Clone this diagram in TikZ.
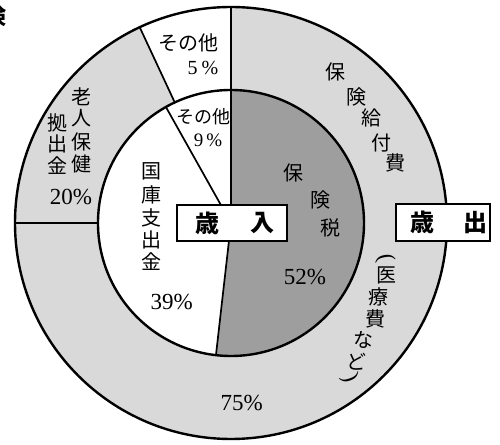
\documentclass[tikz,border=0pt]{standalone}
\usepackage{fontspec}
\setmainfont{Liberation Serif}
\newfontfamily\jp{Noto Sans CJK JP}
\usetikzlibrary{calc}
\definecolor{ringgray}{RGB}{217,217,217}
\definecolor{taxgray}{RGB}{158,158,158}
\begin{document}
\begin{tikzpicture}[x=1pt,y=1pt,
  jc/.style={font=\jp\fontsize{20}{20}\selectfont, inner sep=0pt},
  jb/.style={font=\jp\bfseries\fontsize{24}{24}\selectfont, inner sep=0pt},
  num/.style={font=\fontsize{23}{23}\selectfont, inner sep=0pt},
  sml/.style={font=\fontsize{20}{20}\selectfont, inner sep=0pt},
  lblbox/.style={draw, line width=2.2pt, fill=white, inner sep=0pt},
  ringline/.style={line width=2.4pt},
  divline/.style={line width=1.7pt}]
\useasboundingbox (0,0) rectangle (500,444);
\coordinate (c) at (231,221);
% fills
\fill[ringgray] (c) circle[radius=216];
\fill[white] (c) -- ++(90:216) arc[start angle=90,end angle=115,radius=216] -- cycle;
\fill[white] (c) circle[radius=133];
\fill[taxgray] (c) -- ++(90:133) arc[start angle=90,end angle=-96.5,radius=133] -- cycle;
% circles
\draw[ringline] (c) circle[radius=216];
\draw[ringline] (c) circle[radius=133];
% divider points
\path (c) ++(90:216) coordinate (otop);
\path (c) ++(115:216) coordinate (o115);
\path (c) ++(115:133) coordinate (i115);
\path (c) ++(180:216) coordinate (oleft);
\path (c) ++(180:133) coordinate (ileft);
\path (c) ++(119.3:133) coordinate (i119);
\path (c) ++(-96.5:133) coordinate (ibot);
\draw[divline] (otop) -- (c);
\draw[divline] (o115) -- (i115);
\draw[divline] (oleft) -- (ileft);
\draw[divline] (i119) -- (c);
\draw[divline] (c) -- (ibot);
% boxes
\node[lblbox, minimum width=110pt, minimum height=36pt] (inbox) at (232,221) {};
\node[jb] (in1) at (207,221) {歳};
\node[jb] (in2) at (262,221) {入};
\node[lblbox, minimum width=94pt, minimum height=37pt] (outbox) at (443,221.5) {};
\node[jb] (out1) at (422,221.5) {歳};
\node[jb] (out2) at (475,221.5) {出};
% 保険給付費
\node[jc] (k1) at (335,372) {保};
\node[jc] (k2) at (356.7,347.3) {険};
\node[jc] (k3) at (371.7,325.7) {給};
\node[jc] (k4) at (381.7,300.7) {付};
\node[jc] (k5) at (395,280.7) {費};
% (医療費など)
\node[sml, font=\fontsize{23}{23}\selectfont, rotate=-80] (p1) at (385,186) {(};
\node[jc] (m1) at (386.7,168.7) {医};
\node[jc] (m2) at (378.3,147) {療};
\node[jc] (m3) at (375,125.3) {費};
\node[jc] (m4) at (363.3,103.7) {な};
\node[jc] (m5) at (356.7,82) {ど};
\node[sml, font=\fontsize{23}{23}\selectfont, rotate=-70] (p2) at (350,66) {)};
\node[num] (k75) at (241.7,40.7) {75\%};
% その他 outer
\node[jc] (s1) at (188,401) {その他};
\node[sml] (s1p) at (203,376) {5\hspace{4pt}\%};
% その他 inner
\node[jc, font=\jp\fontsize{18}{18}\selectfont] (s2) at (203,327) {その他};
\node[sml, font=\fontsize{19}{19}\selectfont] (s2p) at (208,304) {9\hspace{3pt}\%};
% 老人保健拠出金
\node[jc] (r1) at (81.7,347.3) {老};
\node[jc] (r2) at (81.7,326) {人};
\node[jc] (r3) at (81.7,302.3) {保};
\node[jc] (r4) at (81.7,280) {健};
\node[jc] (r5) at (57.5,321.5) {拠};
\node[jc] (r6) at (57.5,300) {出};
\node[jc] (r7) at (57.5,278) {金};
\node[num] (r20) at (71,247) {20\%};
% 国庫支出金
\node[jc] (g1) at (151.7,272.3) {国};
\node[jc] (g2) at (151.7,249) {庫};
\node[jc] (g3) at (151.7,226) {支};
\node[jc] (g4) at (151.7,204) {出};
\node[jc] (g5) at (151.7,182.3) {金};
\node[num] (g39) at (171.7,142.3) {39\%};
% 保険税
\node[jc] (h1) at (293.3,270.7) {保};
\node[jc] (h2) at (320,244) {険};
\node[jc] (h3) at (330,215.7) {税};
\node[num] (h52) at (305,167.3) {52\%};
% partial title glyph (cut by the left edge, as in the reference)
\node[jb, font=\jp\bfseries\fontsize{22}{22}\selectfont] (t0) at (-4,428) {険};
\end{tikzpicture}
\end{document}
